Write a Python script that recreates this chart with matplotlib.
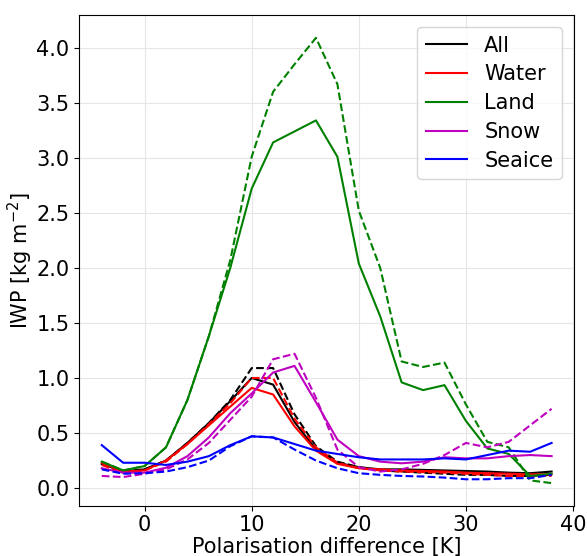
import matplotlib
matplotlib.use("Agg")
import matplotlib.pyplot as plt
import numpy as np

pol_diff = [-4, -2, 0, 2, 4, 6, 8, 10, 12, 14, 16, 18, 20, 22, 24, 26, 28, 30, 32, 34, 36, 38]

all_solid = [0.22, 0.15, 0.17, 0.25, 0.41, 0.59, 0.79, 1.00, 0.94, 0.60, 0.35, 0.23, 0.19, 0.17, 0.17, 0.165, 0.16, 0.155, 0.15, 0.14, 0.135, 0.15]
all_dashed = [0.22, 0.15, 0.17, 0.25, 0.41, 0.59, 0.80, 1.09, 1.09, 0.67, 0.38, 0.24, 0.19, 0.16, 0.15, 0.14, 0.13, 0.12, 0.12, 0.11, 0.11, 0.12]

water_solid = [0.23, 0.15, 0.16, 0.25, 0.40, 0.57, 0.74, 0.91, 0.85, 0.56, 0.34, 0.22, 0.18, 0.17, 0.16, 0.155, 0.15, 0.14, 0.135, 0.13, 0.125, 0.125]
water_dashed = [0.21, 0.14, 0.16, 0.24, 0.40, 0.58, 0.77, 1.00, 1.00, 0.63, 0.37, 0.23, 0.18, 0.16, 0.15, 0.145, 0.14, 0.13, 0.12, 0.11, 0.11, 0.11]

land_solid = [0.24, 0.16, 0.20, 0.37, 0.80, 1.38, 2.00, 2.72, 3.14, 3.24, 3.34, 3.01, 2.04, 1.56, 0.96, 0.89, 0.935, 0.61, 0.36, 0.31, 0.11, 0.13]
land_dashed = [0.24, 0.16, 0.20, 0.37, 0.80, 1.38, 2.07, 3.01, 3.60, 3.85, 4.09, 3.67, 2.52, 2.00, 1.15, 1.10, 1.14, 0.76, 0.42, 0.37, 0.07, 0.045]

snow_solid = [0.18, 0.14, 0.14, 0.185, 0.29, 0.46, 0.68, 0.86, 1.05, 1.11, 0.78, 0.44, 0.29, 0.24, 0.225, 0.24, 0.28, 0.27, 0.27, 0.29, 0.30, 0.29]
snow_dashed = [0.11, 0.10, 0.13, 0.17, 0.26, 0.41, 0.62, 0.83, 1.17, 1.22, 0.82, 0.35, 0.19, 0.15, 0.17, 0.22, 0.30, 0.41, 0.37, 0.42, 0.57, 0.72]

seaice_solid = [0.39, 0.23, 0.23, 0.21, 0.24, 0.29, 0.39, 0.47, 0.46, 0.40, 0.34, 0.31, 0.28, 0.26, 0.26, 0.26, 0.27, 0.26, 0.30, 0.34, 0.33, 0.41]
seaice_dashed = [0.17, 0.13, 0.135, 0.15, 0.19, 0.25, 0.38, 0.47, 0.46, 0.35, 0.25, 0.18, 0.135, 0.12, 0.11, 0.105, 0.095, 0.08, 0.08, 0.09, 0.09, 0.12]

labels = ["All", "Water", "Land", "Snow", "Seaice"]
colors = ["k", "r", "g", "m", "b"]
solids = [all_solid, water_solid, land_solid, snow_solid, seaice_solid]
dashes = [all_dashed, water_dashed, land_dashed, snow_dashed, seaice_dashed]

plt.rcParams['font.family'] = ['DejaVu Sans']
plt.rcParams['font.size'] = 15

fig = plt.figure(figsize=(5.87, 5.56), dpi=100)
ax = fig.add_axes([0.135, 0.0905, 0.843, 0.883])

for lab, c, s, d in zip(labels, colors, solids, dashes):
    ax.plot(pol_diff, s, color=c, lw=1.5, label=lab)
    ax.plot(pol_diff, d, color=c, lw=1.5, ls="--")

ax.grid(True, color="#e6e6e6", lw=0.8)
ax.set_axisbelow(True)
ax.set_xticks([0, 10, 20, 30, 40])
ax.set_yticks([0.0, 0.5, 1.0, 1.5, 2.0, 2.5, 3.0, 3.5, 4.0])
ax.set_xlim(-6.1, 40.1)
ax.set_ylim(-0.16, 4.3)
ax.tick_params(labelsize=15)
ax.set_xlabel("Polarisation difference [K]", labelpad=1)
ax.set_ylabel("IWP [kg m$^{-2}$]", labelpad=1)
ax.legend(loc="upper right", fontsize=15, labelspacing=0.42, borderaxespad=0.6)

fig.savefig("out.png", dpi=100)
